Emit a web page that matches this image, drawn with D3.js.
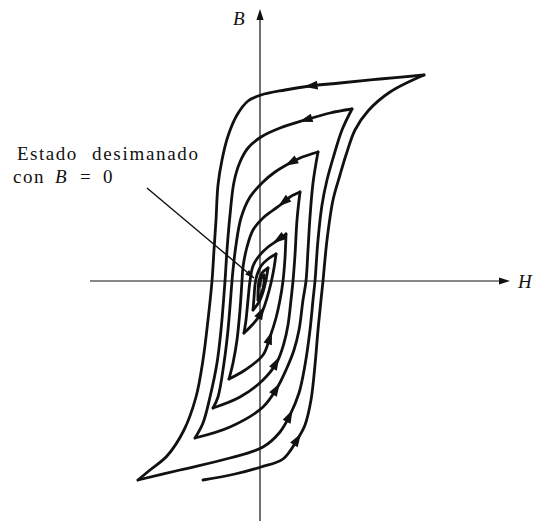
<!DOCTYPE html>
<html>
<head>
<meta charset="utf-8">
<script src="https://cdn.jsdelivr.net/npm/d3@7"></script>
<style>
  body { margin: 0; background: #fff; }
  svg { display: block; }
  text { font-family: "Liberation Serif", "Times New Roman", serif; fill: #111; }
</style>
</head>
<body>
<div id="chart"></div>
<script>
var w = 536;
var h = 521;

// axis extents, in H / B units (arbitrary units, origin at the demagnetized state)
var hAxis = [-170, 250];
var bAxis = [-240, 272];

// branches of the spiral, in drawing order (A = H increasing, D = H decreasing)
var a0 = [[-57,-199],[-25,-193],[1,-186],[23,-178],[37,-159],[45,-144],[51,-119],[55,-84],[58,-49],[61,-19],[63,0],[67,41],[73,81],[80,106],[86,126],[95,151],[108,170],[130,189],[164,206]];
var d1 = [[164,206],[120,202],[80,198],[50,195],[25,191],[1,186],[-12,180],[-23,166],[-32,145],[-38,121],[-42,96],[-44,61],[-46,31],[-48,0],[-52,-39],[-57,-79],[-64,-116],[-76,-149],[-93,-175],[-110,-189],[-122,-199]];
var a1 = [[-122,-199],[-80,-189],[-30,-177],[3,-166],[20,-151],[30,-134],[39,-112],[45,-84],[50,-49],[53,-19],[55,0],[58,41],[62,76],[67,101],[74,126],[82,151],[92,172]];
var d2 = [[92,172],[70,168],[45,161],[20,153],[1,144],[-12,133],[-20,119],[-26,99],[-30,66],[-33,31],[-35,0],[-39,-49],[-43,-82],[-50,-116],[-57,-142],[-65,-157]];
var a2 = [[-65,-157],[-30,-146],[3,-126],[17,-107],[26,-89],[34,-69],[39,-49],[43,-19],[46,0],[48,31],[50,64],[53,98],[58,129]];
var d3b = [[58,129],[40,123],[30,118],[15,109],[3,99],[-10,84],[-19,63],[-24,36],[-27,11],[-28,0],[-32,-49],[-36,-82],[-42,-116],[-47,-127]];
var a3 = [[-47,-127],[-20,-116],[3,-99],[17,-81],[24,-62],[28,-44],[31,-19],[33,0],[35,26],[37,61],[40,89]];
var d4 = [[40,89],[30,84],[23,78],[12,70],[3,63],[-7,51],[-13,34],[-17,14],[-18,0],[-20,-29],[-23,-59],[-27,-82],[-31,-98]];
var a4 = [[-31,-98],[-15,-89],[3,-74],[10,-56],[16,-37],[20,-19],[23,0],[25,23],[26,47]];
var d5 = [[26,47],[18,41],[8,34],[-1,25],[-7,15],[-10,0],[-12,-19],[-14,-39],[-16,-52]];
var a5 = [[-16,-52],[-7,-43],[2,-31],[7,-17],[11,-2],[14,13],[16,27]];
var d6 = [[16,27],[8,22],[1,15],[-3,6],[-5,-4],[-6,-17],[-7,-29]];
var a6 = [[-7,-29],[-1,-21],[3,-11],[6,1],[8,13]];
var d7 = [[8,13],[2,8],[-1,0],[-2,-11],[-2,-19]];
var a7 = [[-2,-19],[2,-11],[4,-2],[4,6]];
var d8 = [[4,6],[1,2],[0,-5]];

var branches = [a0, d1, a1, d2, a2, d3b, a3, d4, a4, d5, a5, d6, a6, d7, a7, d8];

// arrow marks on the curve: [branch index, H, B]
var arrowsAt = [
  [0, 37, -157], [2, 30, -134], [4, 17, -107], [6, 17, -81], [8, 10, -56], [10, 2, -31],
  [1, 50, 195], [3, 45, 161], [5, 30, 118], [7, 23, 78], [9, 18, 41]
];

// annotation
var labelWords = ["Estado", "desimanado"];
var labelLine2 = ["con", "B", "=", "0"];
var leader = [[-113, 93], [-6, 3]];

var x = d3.scaleLinear().domain([-260, 276]).range([0, w]);
var y = d3.scaleLinear().domain([281, -240]).range([0, h]);

var svg = d3.select("#chart")
  .append("svg")
  .attr("width", w)
  .attr("height", h);

svg.append("rect").attr("width", w).attr("height", h).attr("fill", "#fff");

var ink = "#111";

// axes
svg.append("line")
  .attr("x1", x(hAxis[0])).attr("x2", x(hAxis[1]) - 6)
  .attr("y1", y(0)).attr("y2", y(0))
  .attr("stroke", ink).attr("stroke-width", 1.2);

svg.append("line")
  .attr("x1", x(0)).attr("x2", x(0))
  .attr("y1", y(bAxis[0])).attr("y2", y(bAxis[1]) + 6)
  .attr("stroke", ink).attr("stroke-width", 1.2);

var head = "M0,0 L-11,-3.6 L-11,3.6 Z";

svg.append("path")
  .attr("d", head)
  .attr("transform", "translate(" + x(hAxis[1]) + "," + y(0) + ")")
  .attr("fill", ink);

svg.append("path")
  .attr("d", head)
  .attr("transform", "translate(" + x(0) + "," + y(bAxis[1]) + ") rotate(-90)")
  .attr("fill", ink);

svg.append("text")
  .attr("x", x(hAxis[1]) + 8).attr("y", y(0) + 7)
  .attr("font-size", 19).attr("font-style", "italic")
  .text("H");

svg.append("text")
  .attr("x", x(0) - 27).attr("y", y(bAxis[1]) + 16)
  .attr("font-size", 19).attr("font-style", "italic")
  .text("B");

// hysteresis spiral
var line = d3.line()
  .x(function (d) { return x(d[0]); })
  .y(function (d) { return y(d[1]); })
  .curve(d3.curveCatmullRom.alpha(0.5));

var paths = svg.selectAll("path.branch")
  .data(branches)
  .enter()
  .append("path")
  .attr("class", "branch")
  .attr("d", line)
  .attr("fill", "none")
  .attr("stroke", ink)
  .attr("stroke-width", 2.8)
  .attr("stroke-linecap", "round")
  .attr("stroke-linejoin", "round");

var nodes = paths.nodes();

// arrowheads along the curve, oriented by the path tangent
arrowsAt.forEach(function (a) {
  var p = nodes[a[0]];
  var len = p.getTotalLength();
  var tx = x(a[1]), ty = y(a[2]);
  var best = 0, bestD = Infinity;
  for (var l = 0; l <= len; l += 0.5) {
    var q = p.getPointAtLength(l);
    var dd = (q.x - tx) * (q.x - tx) + (q.y - ty) * (q.y - ty);
    if (dd < bestD) { bestD = dd; best = l; }
  }
  var p1 = p.getPointAtLength(Math.max(0, best - 3));
  var p2 = p.getPointAtLength(Math.min(len, best + 3));
  var ang = Math.atan2(p2.y - p1.y, p2.x - p1.x) * 180 / Math.PI;
  var c = p.getPointAtLength(Math.min(len, best + 6));
  svg.append("path")
    .attr("d", "M0,0 L-13.5,-4.4 L-13.5,4.4 Z")
    .attr("transform", "translate(" + c.x + "," + c.y + ") rotate(" + ang + ")")
    .attr("fill", ink);
});

// annotation
svg.append("text")
  .attr("x", 17).attr("y", 160)
  .attr("font-size", 19)
  .attr("letter-spacing", 1.5)
  .text(labelWords[0]);

svg.append("text")
  .attr("x", 92).attr("y", 160)
  .attr("font-size", 19)
  .attr("letter-spacing", 1.7)
  .text(labelWords[1]);

var line2X = [13, 55, 80, 103];
labelLine2.forEach(function (s, i) {
  svg.append("text")
    .attr("x", line2X[i]).attr("y", 183)
    .attr("font-size", 19)
    .attr("letter-spacing", i === 0 ? 1.5 : 0)
    .attr("font-style", i === 1 ? "italic" : "normal")
    .text(s);
});

svg.append("line")
  .attr("x1", x(leader[0][0])).attr("y1", y(leader[0][1]))
  .attr("x2", x(leader[1][0])).attr("y2", y(leader[1][1]))
  .attr("stroke", ink).attr("stroke-width", 1.4);

var lang = Math.atan2(y(leader[1][1]) - y(leader[0][1]), x(leader[1][0]) - x(leader[0][0])) * 180 / Math.PI;
svg.append("path")
  .attr("d", "M0,0 L-9,-3 L-9,3 Z")
  .attr("transform", "translate(" + x(leader[1][0]) + "," + y(leader[1][1]) + ") rotate(" + lang + ")")
  .attr("fill", ink);
</script>
</body>
</html>
